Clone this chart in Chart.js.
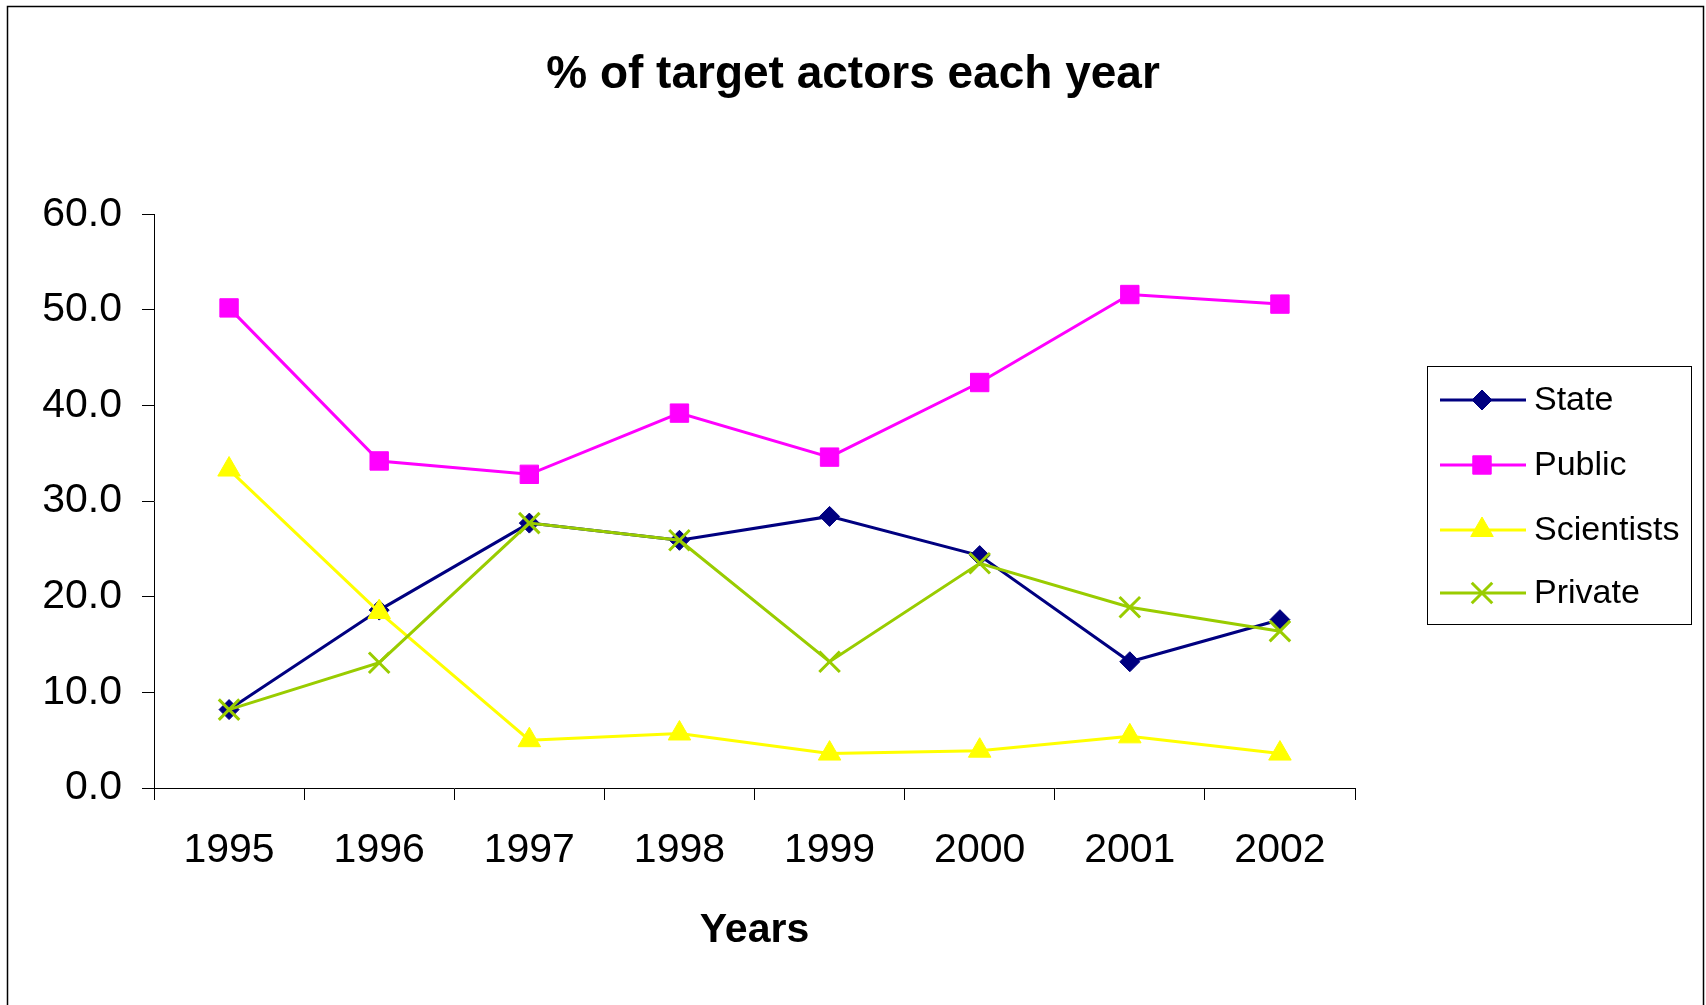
<!DOCTYPE html>
<html>
<head>
<meta charset="utf-8">
<script src="https://cdn.jsdelivr.net/npm/chart.js@4.4.1/dist/chart.umd.min.js"></script>
<style>
  html, body { margin: 0; padding: 0; background: #ffffff; }
  #wrap { width: 1706px; height: 1005px; position: relative; }
</style>
</head>
<body>
<div id="wrap"><canvas id="c" width="1706" height="1005"></canvas></div>
<script>
// ---- Data ----
const years = ['1995', '1996', '1997', '1998', '1999', '2000', '2001', '2002'];
const stateValues = [8.2, 18.6, 27.7, 25.9, 28.4, 24.3, 13.2, 17.6];
const publicValues = [50.2, 34.2, 32.8, 39.2, 34.6, 42.4, 51.6, 50.6];
const scientistValues = [33.3, 18.4, 5.0, 5.7, 3.6, 3.9, 5.4, 3.6];
const privateValues = [8.2, 13.1, 27.7, 25.9, 13.2, 23.5, 18.9, 16.4];
const seriesNames = ['State', 'Public', 'Scientists', 'Private'];
const yTickMin = 0, yTickMax = 60, yTickStep = 10;
const chartTitle = '% of target actors each year';
const xAxisTitle = 'Years';

const FONT = "'Liberation Sans', Arial, Helvetica, sans-serif";

function ds(label, data, color, style, radius, pbw, order) {
  return {
    label, data,
    yAxisID: 'y',
    borderColor: color, backgroundColor: color,
    borderWidth: 3,
    pointStyle: style, pointRadius: radius, pointHoverRadius: radius,
    pointBorderWidth: pbw, pointBorderColor: color, pointBackgroundColor: color,
    tension: 0, fill: false, order
  };
}

const datasets = [
  ds(seriesNames[0], stateValues, '#000080', 'rectRot', 10, 1, 3),
  ds(seriesNames[1], publicValues, '#FF00FF', 'rect', 13, 1, 2),
  ds(seriesNames[2], scientistValues, '#FFFF00', 'triangle', 13, 1, 1),
  ds(seriesNames[3], privateValues, '#99CC00', 'crossRot', 14.5, 3, 0)
];

const framePlugin = {
  id: 'frame',
  beforeDraw(chart) {
    const ctx = chart.ctx;
    ctx.save();
    ctx.fillStyle = '#ffffff';
    ctx.fillRect(0, 0, chart.width, chart.height);
    ctx.restore();
  },
  afterDraw(chart) {
    const ctx = chart.ctx;
    ctx.save();
    // outer border
    ctx.strokeStyle = '#000000';
    ctx.lineWidth = 1.5;
    ctx.strokeRect(7.5, 6.5, 1696, 1010);
    // legend box
    const bx = 1427.5, by = 366.5, bw = 264, bh = 258;
    ctx.lineWidth = 1;
    ctx.strokeStyle = '#000000';
    ctx.strokeRect(bx, by, bw, bh);
    const rowY = [400, 465, 530, 593];
    chart.data.datasets.forEach((d, i) => {
      const y = rowY[i];
      ctx.strokeStyle = d.borderColor;
      ctx.lineWidth = d.borderWidth;
      ctx.beginPath();
      ctx.moveTo(1440, y);
      ctx.lineTo(1526, y);
      ctx.stroke();
      ctx.fillStyle = d.pointBackgroundColor;
      ctx.strokeStyle = d.pointBorderColor;
      ctx.lineWidth = d.pointBorderWidth;
      Chart.helpers.drawPoint(ctx, {
        pointStyle: d.pointStyle, radius: d.pointRadius, rotation: 0, borderWidth: d.pointBorderWidth
      }, 1482, y);
      ctx.fillStyle = '#000000';
      ctx.font = '34px ' + FONT;
      ctx.textAlign = 'left';
      ctx.textBaseline = 'middle';
      ctx.fillText(d.label, 1534, y + 1);
    });
    ctx.restore();
  }
};

new Chart(document.getElementById('c'), {
  type: 'line',
  data: { labels: years, datasets },
  plugins: [framePlugin],
  options: {
    responsive: false,
    animation: false,
    devicePixelRatio: 1,
    layout: { padding: { left: 0, right: 0, top: 0, bottom: 0 } },
    plugins: {
      legend: { display: false },
      tooltip: { enabled: false },
      title: {
        display: true,
        text: chartTitle,
        color: '#000000',
        font: { family: FONT, size: 46, weight: 'bold' },
        padding: { top: 48, bottom: 111 }
      }
    },
    scales: {
      x: {
        type: 'category',
        offset: true,
        grid: { display: true, offset: true, drawOnChartArea: false, drawTicks: true, tickLength: 12, color: '#000000', lineWidth: 1 },
        border: { display: true, color: '#000000', width: 1 },
        ticks: { color: '#000000', font: { family: FONT, size: 41 }, padding: 26, maxRotation: 0, autoSkip: false },
        title: { display: true, text: xAxisTitle, color: '#000000', font: { family: FONT, size: 41, weight: 'bold' }, padding: { top: 50, bottom: 50 } },
        afterFit(s) { s.height = 217; }
      },
      y: {
        min: yTickMin, max: yTickMax,
        grid: { display: true, drawOnChartArea: false, drawTicks: true, tickLength: 12, color: '#000000', lineWidth: 1 },
        border: { display: true, color: '#000000', width: 1 },
        ticks: { stepSize: yTickStep, color: '#000000', font: { family: FONT, size: 41 }, padding: 20, callback: v => Number(v).toFixed(1) },
        afterFit(s) { s.width = 154; }
      },
      // empty right-hand band that holds the legend area
      yRight: {
        type: 'linear',
        position: 'right',
        display: true,
        grid: { display: false, drawTicks: false },
        border: { display: false },
        ticks: { display: false },
        afterFit(s) { s.width = 351; }
      }
    }
  }
});
</script>
</body>
</html>
